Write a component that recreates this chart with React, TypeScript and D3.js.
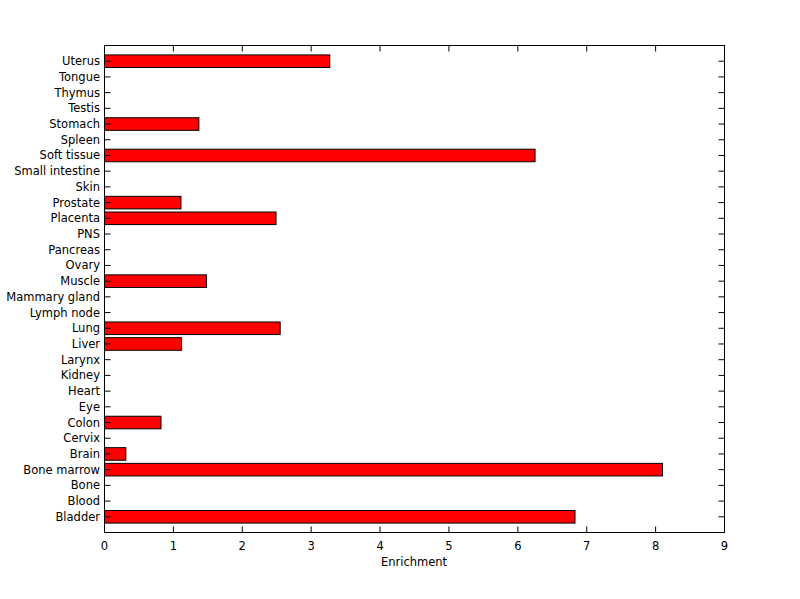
import React from "react";
import * as d3 from "d3";

const categories = [
  "Bladder", "Blood", "Bone", "Bone marrow", "Brain", "Cervix", "Colon", "Eye", "Heart", "Kidney",
  "Larynx", "Liver", "Lung", "Lymph node", "Mammary gland", "Muscle", "Ovary", "Pancreas", "PNS",
  "Placenta", "Prostate", "Skin", "Small intestine", "Soft tissue", "Spleen", "Stomach", "Testis",
  "Thymus", "Tongue", "Uterus",
];
const values = [
  6.83, 0, 0, 8.10, 0.31, 0, 0.82, 0, 0, 0,
  0, 1.12, 2.55, 0, 0, 1.48, 0, 0, 0,
  2.49, 1.11, 0, 0, 6.25, 0, 1.37, 0,
  0, 0, 3.27,
];
const xTicks = [0, 1, 2, 3, 4, 5, 6, 7, 8, 9];
const xLabel = "Enrichment";

export default function App() {
  const W = 800, H = 599;
  const left = 104.5, right = 724.5, top = 45.5, bottom = 532.5;
  const x = d3.scaleLinear().domain([0, 9]).range([left, right]);
  const y = d3.scaleLinear().domain([0, categories.length + 1]).range([bottom, top]);
  const bw = 0.8 * (y(0) - y(1));
  const tick = 6;
  const font = "'DejaVu Sans', Verdana, sans-serif";
  const fs = 11.5;
  return (
    <svg width={W} height={H} style={{ position: "absolute", left: 0, top: 0, background: "#fff" }}>
      <rect x={0} y={0} width={W} height={H} fill="#fff" />
      {categories.map((c, i) =>
        values[i] > 0 ? (
          <rect key={"b" + c} x={x(0)} y={y(i + 1) - bw / 2} width={x(values[i]) - x(0)} height={bw}
            fill="#ff0000" stroke="#000" strokeWidth={1} />
        ) : null
      )}
      <rect x={left} y={top} width={right - left} height={bottom - top} fill="none" stroke="#000" strokeWidth={1} />
      {xTicks.map((t) => (
        <g key={"x" + t}>
          <line x1={x(t)} x2={x(t)} y1={bottom} y2={bottom - tick} stroke="#000" />
          <line x1={x(t)} x2={x(t)} y1={top} y2={top + tick} stroke="#000" />
          <text x={x(t)} y={550} textAnchor="middle" fontSize={fs} fontFamily={font} fill="#000">{t}</text>
        </g>
      ))}
      {categories.map((c, i) => (
        <g key={"y" + c}>
          <line x1={left} x2={left + tick} y1={y(i + 1)} y2={y(i + 1)} stroke="#000" />
          <line x1={right} x2={right - tick} y1={y(i + 1)} y2={y(i + 1)} stroke="#000" />
          <text x={100} y={y(i + 1)} dy="0.35em" textAnchor="end" fontSize={fs} fontFamily={font} fill="#000">{c}</text>
        </g>
      ))}
      <text x={(left + right) / 2 - 0.5} y={566} textAnchor="middle" fontSize={fs} fontFamily={font} fill="#000">{xLabel}</text>
    </svg>
  );
}
